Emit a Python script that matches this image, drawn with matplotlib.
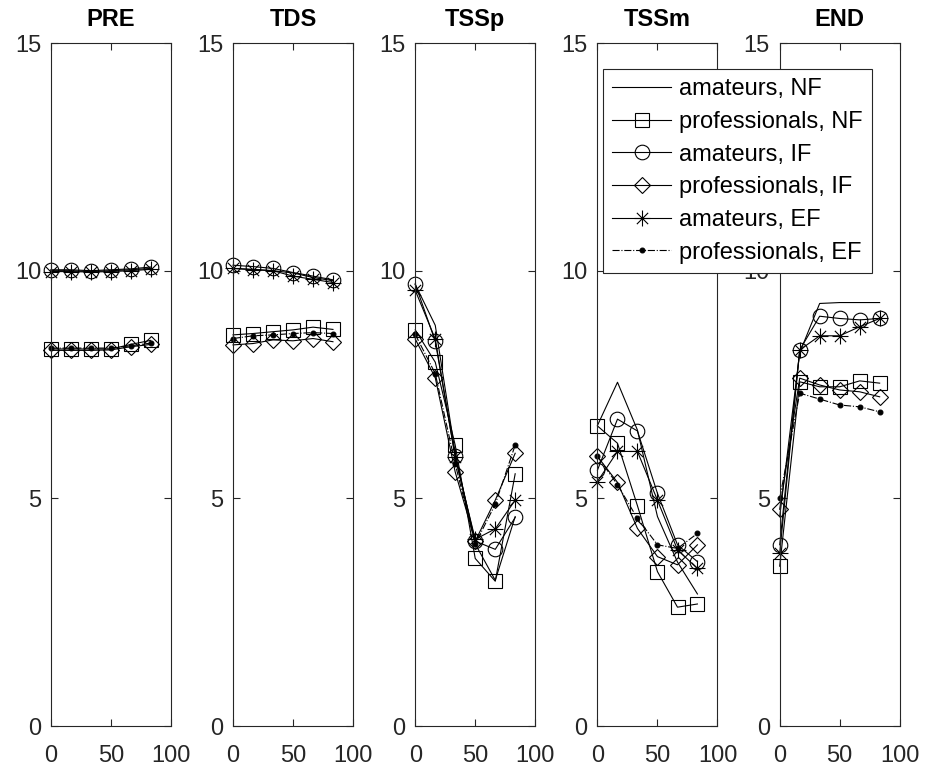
import matplotlib
matplotlib.use("Agg")
import matplotlib.pyplot as plt
from matplotlib.path import Path

plt.rcParams["font.family"] = ["Liberation Sans", "DejaVu Sans"]
plt.rcParams["font.size"] = 17

phases = ["PRE", "TDS", "TSSp", "TSSm", "END"]
x = [0, 16.7, 33.3, 50, 66.7, 83.3]

# One row per phase (PRE, TDS, TSSp, TSSm, END).
am_nf = [
    [10.0, 10.0, 9.98, 10.0, 10.02, 10.05],
    [10.05, 10.03, 10.0, 9.95, 9.85, 9.78],
    [9.7, 8.8, 6.0, 4.0, 3.2, 4.6],
    [6.6, 7.55, 6.5, 4.6, 3.6, 2.9],
    [4.6, 8.2, 9.28, 9.3, 9.3, 9.3],
]
pro_nf = [
    [8.28, 8.28, 8.28, 8.28, 8.38, 8.47],
    [8.59, 8.62, 8.66, 8.70, 8.76, 8.71],
    [8.7, 7.99, 6.17, 3.68, 3.18, 5.54],
    [6.59, 6.21, 4.84, 3.39, 2.61, 2.68],
    [3.51, 7.56, 7.45, 7.45, 7.58, 7.53],
]
am_if = [
    [10.02, 10.02, 10.0, 10.02, 10.04, 10.08],
    [10.12, 10.09, 10.05, 9.96, 9.88, 9.80],
    [9.71, 8.45, 5.92, 4.06, 3.88, 4.58],
    [5.62, 6.74, 6.48, 5.11, 3.98, 3.61],
    [3.98, 8.26, 9.0, 8.95, 8.92, 8.95],
]
pro_if = [
    [8.25, 8.25, 8.25, 8.26, 8.33, 8.38],
    [8.37, 8.40, 8.48, 8.46, 8.51, 8.44],
    [8.5, 7.65, 5.58, 4.06, 4.96, 5.99],
    [5.92, 5.35, 4.34, 3.72, 3.54, 3.98],
    [4.76, 7.64, 7.49, 7.38, 7.34, 7.23],
]
am_ef = [
    [9.98, 9.98, 9.97, 9.98, 10.0, 10.03],
    [10.05, 10.02, 10.0, 9.88, 9.81, 9.74],
    [9.57, 8.5, 5.9, 4.1, 4.33, 4.96],
    [5.37, 6.03, 6.03, 4.96, 3.87, 3.46],
    [3.79, 8.26, 8.57, 8.57, 8.77, 8.95],
]
pro_ef = [
    [8.3, 8.3, 8.3, 8.3, 8.35, 8.41],
    [8.51, 8.57, 8.59, 8.62, 8.64, 8.62],
    [8.6, 7.74, 5.76, 4.0, 4.87, 6.17],
    [5.92, 5.3, 4.56, 3.98, 3.9, 4.23],
    [5.0, 7.31, 7.18, 7.05, 7.01, 6.9],
]

labels = [
    "amateurs, NF",
    "professionals, NF",
    "amateurs, IF",
    "professionals, IF",
    "amateurs, EF",
    "professionals, EF",
]

# MATLAB-like '*' marker: eight open strokes.
d = 0.707
asterisk = Path(
    [(-1, 0), (1, 0), (0, -1), (0, 1), (-d, -d), (d, d), (-d, d), (d, -d)],
    [Path.MOVETO, Path.LINETO] * 4,
)

styles = [
    dict(ls="-", marker=None),
    dict(ls="-", marker="s", ms=10),
    dict(ls="-", marker="o", ms=10.5),
    dict(ls="-", marker="D", ms=8.5),
    dict(ls="-", marker=asterisk, ms=11.5),
    dict(ls="-.", marker=".", ms=7),
]
series = [am_nf, pro_nf, am_if, pro_if, am_ef, pro_ef]

fig = plt.figure(figsize=(9.26, 7.75), dpi=100)

handles = []
for i, phase in enumerate(phases):
    ax = fig.add_axes([0.0548 + i * 0.1968, 0.0632, 0.1296, 0.8813])
    for data, st, lab in zip(series, styles, labels):
        (h,) = ax.plot(
            x, data[i], color="black", lw=0.8, mfc="none", mew=0.8,
            label=lab, clip_on=False, **st,
        )
        if i == 0:
            handles.append(h)
    # the dot marker is filled
    ax.lines[-1].set_markerfacecolor("black")

    ax.set_xlim(0, 100)
    ax.set_ylim(0, 15)
    ax.set_xticks([0, 50, 100])
    ax.set_yticks([0, 5, 10, 15])
    ax.tick_params(axis="both", direction="in", top=True, right=True,
                   length=5, width=0.8, colors="#262626")
    ax.tick_params(axis="x", pad=14)
    ax.tick_params(axis="y", pad=7)
    for s in ax.spines.values():
        s.set_linewidth(0.8)
        s.set_color("#262626")
    ax.set_title(phase, fontweight="bold", fontsize=17, pad=12)

leg = fig.legend(
    handles, labels,
    loc="upper left",
    bbox_to_anchor=(603 / 926, 1 - 69 / 775),
    borderaxespad=0,
    fancybox=False,
    framealpha=1,
    edgecolor="#262626",
    fontsize=17,
    labelspacing=0.45,
    handlelength=2.5,
    handletextpad=0.3,
    borderpad=0.4,
)
leg.get_frame().set_linewidth(0.8)

fig.savefig("out.png", dpi=100)
